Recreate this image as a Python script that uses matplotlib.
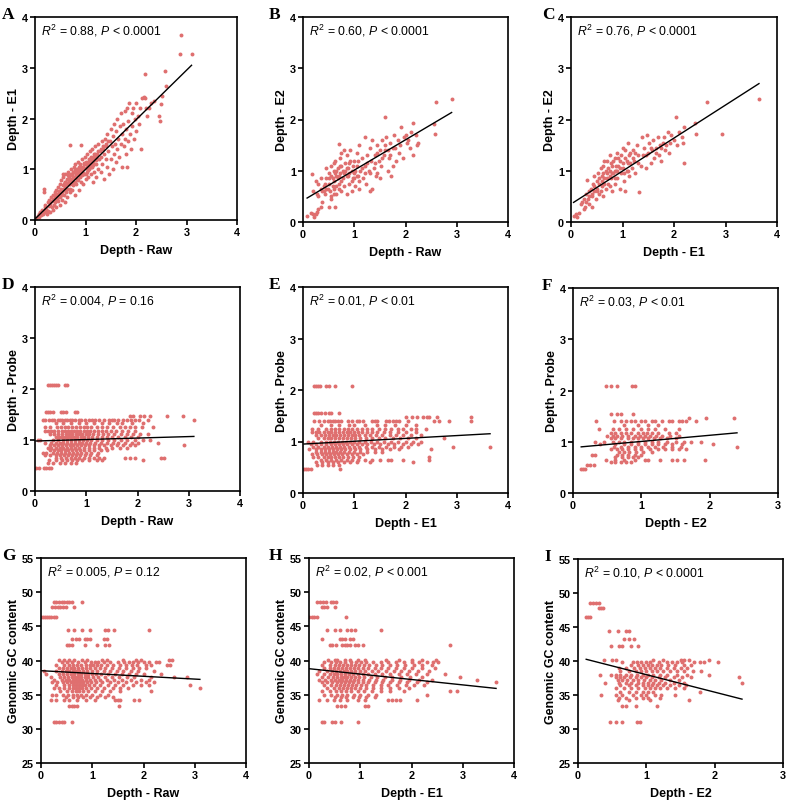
import numpy as np
import matplotlib
matplotlib.use('Agg')
import matplotlib.pyplot as plt

plt.rcParams['font.family'] = 'Liberation Sans'
plt.rcParams['mathtext.fontset'] = 'custom'
plt.rcParams['mathtext.rm'] = 'Liberation Sans'
plt.rcParams['mathtext.it'] = 'Liberation Sans:italic'

DOT = '#DF6F6F'

# ---- panel A: Depth Raw (x) vs Depth E1 (y)
a_pts = [
    (0.02, 0.03), (0.05, 0.08), (0.07, 0.12), (0.08, 0.05), (0.10, 0.15), (0.12, 0.10), (0.13, 0.20),
    (0.15, 0.12), (0.17, 0.18), (0.18, 0.62), (0.18, 0.55), (0.20, 0.25), (0.20, 0.15), (0.19, 0.30),
    (0.22, 0.22), (0.23, 0.12), (0.25, 0.35), (0.26, 0.18), (0.28, 0.40), (0.28, 0.28), (0.30, 0.15),
    (0.30, 0.32), (0.32, 0.45), (0.33, 0.25), (0.34, 0.38), (0.35, 0.50), (0.36, 0.20), (0.37, 0.42),
    (0.38, 0.30), (0.39, 0.55), (0.40, 0.35), (0.40, 0.48), (0.41, 0.60), (0.42, 0.25), (0.43, 0.42),
    (0.44, 0.52), (0.45, 0.65), (0.46, 0.38), (0.47, 0.50), (0.48, 0.58), (0.49, 0.70), (0.50, 0.30),
    (0.50, 0.45), (0.51, 0.62), (0.52, 0.78), (0.53, 0.55), (0.54, 0.40), (0.55, 0.68), (0.56, 0.85),
    (0.57, 0.50), (0.58, 0.62), (0.59, 0.75), (0.60, 0.35), (0.60, 0.90), (0.61, 0.55), (0.62, 0.70),
    (0.63, 0.80), (0.64, 0.45), (0.65, 0.95), (0.66, 0.62), (0.67, 0.75), (0.68, 0.85), (0.69, 0.55),
    (0.70, 1.48), (0.70, 0.70), (0.71, 0.90), (0.72, 1.00), (0.73, 0.60), (0.74, 0.80), (0.75, 0.95),
    (0.76, 0.68), (0.77, 1.05), (0.78, 0.85), (0.79, 0.75), (0.80, 0.50), (0.80, 1.10), (0.81, 0.90),
    (0.82, 0.70), (0.83, 1.00), (0.84, 0.80), (0.85, 1.15), (0.86, 0.95), (0.87, 0.60), (0.88, 1.05),
    (0.89, 0.85), (0.90, 1.10), (0.91, 0.75), (0.92, 1.47), (0.92, 0.95), (0.93, 1.20), (0.94, 0.88),
    (0.95, 1.00), (0.96, 0.70), (0.97, 1.12), (0.98, 0.90), (0.99, 1.25), (1.00, 1.02), (1.00, 0.80),
    (1.01, 1.15), (1.02, 0.95), (1.03, 1.30), (1.04, 1.05), (1.05, 0.85), (1.06, 1.20), (1.07, 1.00),
    (1.08, 1.35), (1.09, 1.10), (1.10, 0.90), (1.11, 1.25), (1.12, 1.05), (1.13, 1.40), (1.14, 0.75),
    (1.15, 1.15), (1.16, 1.30), (1.17, 0.95), (1.18, 1.20), (1.19, 1.45), (1.20, 1.10), (1.20, 0.85),
    (1.22, 1.30), (1.24, 1.00), (1.25, 1.50), (1.26, 1.20), (1.28, 1.35), (1.30, 0.95), (1.30, 1.25),
    (1.32, 1.55), (1.33, 1.10), (1.35, 1.40), (1.36, 0.80), (1.37, 1.30), (1.38, 1.60), (1.40, 1.20),
    (1.40, 1.45), (1.42, 1.05), (1.43, 1.70), (1.45, 1.35), (1.46, 0.90), (1.48, 1.55), (1.50, 1.20),
    (1.50, 1.80), (1.52, 1.45), (1.54, 1.00), (1.55, 1.65), (1.56, 1.30), (1.57, 1.90), (1.58, 1.50),
    (1.60, 1.15), (1.60, 1.75), (1.62, 1.40), (1.63, 2.00), (1.65, 1.60), (1.66, 1.25), (1.68, 1.85),
    (1.70, 1.50), (1.70, 2.10), (1.72, 1.70), (1.73, 1.05), (1.75, 1.90), (1.76, 1.45), (1.78, 2.15),
    (1.78, 1.60), (1.80, 1.80), (1.80, 1.30), (1.82, 2.20), (1.83, 1.05), (1.84, 1.55), (1.85, 1.95),
    (1.87, 2.30), (1.88, 1.70), (1.90, 1.40), (1.92, 2.10), (1.93, 1.85), (1.95, 2.20), (1.96, 1.60),
    (1.98, 2.00), (2.00, 2.30), (2.00, 1.75), (2.03, 2.05), (2.05, 1.90), (2.08, 2.20), (2.10, 1.40),
    (2.12, 2.40), (2.15, 2.42), (2.17, 2.40), (2.18, 2.88), (2.20, 2.20), (2.22, 2.05), (2.25, 2.20),
    (2.30, 2.30), (2.35, 2.35), (2.45, 2.05), (2.48, 1.95), (2.50, 2.28), (2.52, 2.45), (2.57, 2.93),
    (2.60, 2.65), (2.87, 3.27), (2.90, 3.65), (3.10, 3.27),
    (0.30, 0.38), (0.35, 0.40), (0.40, 0.42), (0.42, 0.50), (0.45, 0.45), (0.48, 0.52), (0.50, 0.55),
    (0.52, 0.50), (0.55, 0.60), (0.58, 0.70), (0.60, 0.65), (0.62, 0.62), (0.64, 0.72), (0.66, 0.80),
    (0.68, 0.70), (0.70, 0.80), (0.72, 0.78), (0.74, 0.88), (0.76, 0.82), (0.78, 0.95), (0.80, 0.85),
    (0.82, 0.92), (0.84, 0.98), (0.86, 0.88), (0.88, 0.95), (0.90, 1.00), (0.92, 1.05), (0.94, 1.00),
    (0.96, 1.05), (0.98, 1.10), (1.00, 1.10), (1.02, 1.08), (1.04, 1.15), (1.06, 1.10), (1.08, 1.20),
    (1.10, 1.15), (1.12, 1.20), (1.15, 1.25), (1.18, 1.30), (1.20, 1.25), (1.25, 1.35), (1.30, 1.40),
    (1.35, 1.45), (1.40, 1.50), (1.45, 1.55), (0.55, 0.90), (0.60, 0.75), (0.65, 0.88), (0.70, 0.62),
    (0.75, 0.72), (0.80, 0.98), (0.85, 0.78), (0.90, 0.88), (0.95, 0.92), (1.00, 0.90), (1.05, 0.98),
    (1.10, 1.05), (1.15, 1.08), (1.20, 1.18),
]

# ---- panel B: Depth Raw (x) vs Depth E2 (y)
b_pts = [
    (0.08, 0.12), (0.15, 0.18), (0.20, 0.15), (0.25, 0.15), (0.28, 0.20), (0.22, 0.10), (0.30, 0.25),
    (0.35, 0.30), (0.18, 0.93), (0.20, 0.60), (0.25, 0.80), (0.30, 0.75), (0.28, 0.55), (0.35, 0.65),
    (0.38, 0.40), (0.40, 0.70), (0.42, 0.55), (0.45, 0.85), (0.45, 1.05), (0.50, 0.30), (0.50, 0.95),
    (0.50, 0.75), (0.52, 0.60), (0.55, 1.10), (0.55, 0.45), (0.58, 0.85), (0.60, 0.65), (0.60, 1.00),
    (0.62, 0.30), (0.63, 1.20), (0.65, 0.90), (0.65, 0.55), (0.68, 1.05), (0.70, 1.53), (0.70, 0.75),
    (0.72, 0.95), (0.73, 1.25), (0.75, 0.60), (0.75, 1.10), (0.78, 0.85), (0.80, 1.40), (0.80, 0.70),
    (0.82, 1.00), (0.85, 1.30), (0.85, 0.55), (0.88, 0.90), (0.90, 1.15), (0.90, 0.75), (0.92, 1.40),
    (0.95, 1.00), (0.95, 0.60), (0.98, 0.85), (1.00, 1.20), (1.00, 0.95), (1.02, 0.70), (1.05, 1.10),
    (1.05, 1.35), (1.08, 0.90), (1.10, 1.50), (1.10, 0.65), (1.12, 1.00), (1.15, 1.25), (1.18, 0.85),
    (1.20, 1.10), (1.20, 1.65), (1.22, 0.75), (1.25, 1.30), (1.28, 1.00), (1.30, 1.45), (1.30, 0.60),
    (1.32, 1.20), (1.35, 0.65), (1.35, 1.60), (1.38, 1.05), (1.40, 1.30), (1.42, 0.90), (1.45, 1.50),
    (1.48, 1.20), (1.50, 1.40), (1.50, 0.85), (1.52, 1.10), (1.55, 1.60), (1.58, 1.30), (1.60, 2.05),
    (1.60, 1.50), (1.62, 1.65), (1.65, 1.00), (1.65, 1.40), (1.68, 1.25), (1.70, 1.55), (1.72, 0.90),
    (1.75, 1.10), (1.78, 1.70), (1.80, 1.45), (1.82, 1.20), (1.85, 1.60), (1.88, 1.35), (1.90, 1.50),
    (1.92, 1.85), (1.95, 1.25), (1.98, 1.65), (2.00, 1.70), (2.02, 1.55), (2.05, 1.60), (2.08, 1.45),
    (2.10, 1.75), (2.15, 1.30), (2.15, 1.93), (2.20, 1.70), (2.22, 1.50), (2.25, 1.55), (2.55, 1.92),
    (2.57, 1.72), (2.60, 2.35), (2.90, 2.40),
    (0.40, 0.60), (0.45, 0.65), (0.50, 0.85), (0.55, 0.90), (0.58, 0.70), (0.60, 0.80), (0.62, 0.95),
    (0.65, 1.00), (0.68, 0.85), (0.70, 0.90), (0.72, 1.10), (0.75, 0.80), (0.78, 1.00), (0.80, 0.95),
    (0.82, 1.15), (0.85, 0.90), (0.88, 1.05), (0.90, 0.95), (0.92, 1.20), (0.95, 0.80), (0.98, 1.10),
    (1.00, 0.85), (1.02, 1.00), (1.05, 0.90), (1.08, 1.20), (1.10, 0.80), (1.15, 1.05), (1.20, 0.95),
    (1.25, 1.15), (0.55, 0.50), (0.60, 0.55), (0.65, 0.70), (0.70, 0.65), (0.48, 0.65), (0.42, 0.75),
    (0.38, 0.60), (0.30, 0.50), (0.35, 0.85), (0.60, 1.15), (0.75, 1.35), (0.85, 1.05), (1.30, 0.95),
    (1.40, 1.15), (1.45, 1.35), (1.55, 1.25), (1.60, 1.40), (1.70, 1.30), (1.75, 1.45), (1.45, 0.95),
]

# ---- panel C: Depth E1 (x) vs Depth E2 (y)
c_pts = [
    (0.05, 0.12), (0.10, 0.15), (0.12, 0.10), (0.15, 0.18), (0.20, 0.35), (0.22, 0.40), (0.25, 0.25),
    (0.28, 0.30), (0.30, 0.55), (0.32, 0.82), (0.33, 0.45), (0.35, 0.60), (0.35, 0.35), (0.38, 0.65),
    (0.40, 0.50), (0.40, 0.30), (0.42, 0.75), (0.45, 0.60), (0.45, 0.90), (0.48, 0.45), (0.50, 0.80),
    (0.50, 0.65), (0.52, 0.95), (0.55, 0.55), (0.55, 0.75), (0.58, 1.05), (0.60, 0.70), (0.60, 0.90),
    (0.62, 0.50), (0.63, 1.10), (0.65, 0.85), (0.68, 0.65), (0.70, 1.20), (0.70, 0.95), (0.72, 0.75),
    (0.75, 1.00), (0.75, 1.30), (0.78, 0.85), (0.80, 1.10), (0.80, 0.60), (0.82, 0.95), (0.85, 1.25),
    (0.85, 0.75), (0.88, 1.00), (0.90, 1.35), (0.90, 0.85), (0.92, 1.10), (0.95, 0.65), (0.95, 1.20),
    (0.98, 0.95), (1.00, 1.45), (1.00, 1.05), (1.02, 0.80), (1.05, 1.25), (1.05, 0.60), (1.08, 1.00),
    (1.10, 1.55), (1.10, 1.15), (1.12, 0.90), (1.15, 1.35), (1.18, 1.05), (1.20, 1.40), (1.22, 1.20),
    (1.25, 0.95), (1.28, 1.50), (1.30, 1.30), (1.32, 0.58), (1.35, 1.10), (1.38, 1.65), (1.40, 1.30),
    (1.42, 1.45), (1.45, 1.05), (1.48, 1.70), (1.50, 1.35), (1.52, 1.55), (1.55, 1.15), (1.58, 1.40),
    (1.60, 1.60), (1.62, 1.25), (1.65, 1.45), (1.68, 1.65), (1.70, 1.30), (1.72, 1.50), (1.75, 1.20),
    (1.78, 1.55), (1.80, 1.65), (1.82, 1.40), (1.85, 1.50), (1.88, 1.75), (1.90, 1.35), (1.92, 1.55),
    (1.95, 1.70), (2.00, 1.60), (2.03, 2.05), (2.05, 1.50), (2.10, 1.75), (2.15, 1.65), (2.18, 1.55),
    (2.20, 1.15), (2.20, 1.85), (2.40, 1.93), (2.42, 1.72), (2.65, 2.35), (2.93, 1.72), (3.65, 2.40),
    (0.45, 0.70), (0.50, 0.60), (0.55, 0.85), (0.60, 0.80), (0.62, 0.95), (0.65, 0.75), (0.68, 1.00),
    (0.70, 0.85), (0.72, 1.05), (0.75, 0.90), (0.78, 1.15), (0.80, 0.95), (0.82, 1.20), (0.85, 1.00),
    (0.88, 1.10), (0.90, 1.00), (0.92, 1.25), (0.95, 1.05), (0.98, 1.30), (1.00, 1.15), (1.02, 0.95),
    (1.05, 1.40), (1.08, 1.20), (1.10, 1.00), (1.12, 1.30), (1.15, 1.15), (1.20, 1.25), (1.25, 1.35),
    (0.40, 0.55), (0.35, 0.50), (0.30, 0.40), (0.25, 0.45), (0.58, 0.60), (0.65, 1.20), (0.75, 0.70),
    (0.85, 0.85), (1.30, 1.15), (1.45, 1.30), (1.55, 1.45), (1.65, 1.35), (1.75, 1.45),
]

# ---- panels D-F: depth (x) vs probe depth (y); probe depth sits on discrete levels
d_rows = [
    (2.08, [0.25, 0.29, 0.33, 0.37, 0.41, 0.45, 0.58, 0.63]),
    (1.55, [0.22, 0.26, 0.30, 0.35, 0.50, 0.55, 0.60, 0.78, 0.82]),
    (1.47, [1.85, 1.92, 2.05, 2.12, 2.25, 2.58, 2.88]),
    (1.40, [0.15, 0.20, 0.28, 0.33, 0.38, 0.44, 0.48, 0.52, 0.58, 0.62, 0.68, 0.72, 0.78, 0.85, 0.90, 0.97,
            1.05, 1.12, 1.18, 1.25, 1.35, 1.45, 1.50, 1.55, 1.62, 1.72, 1.80, 1.88, 1.95, 2.02, 2.20, 3.10]),
    (1.33, [0.40, 0.55, 0.70, 0.85, 1.00, 1.15, 1.30, 1.45, 1.60, 1.70, 1.90, 2.10]),
    (1.25, [0.20, 0.30, 0.42, 0.50, 0.58, 0.65, 0.72, 0.80, 0.88, 0.95, 1.02, 1.10, 1.20, 1.30, 1.40, 1.52,
            1.65, 1.75, 1.85, 1.95, 2.08, 2.30]),
    (1.18, [0.20, 0.25, 0.32, 0.38, 0.45, 0.52, 0.58, 0.64, 0.70, 0.76, 0.82, 0.88, 0.95, 1.02, 1.08, 1.15,
            1.22, 1.30, 1.38, 1.48, 1.58, 1.70, 1.82, 1.95]),
    (1.12, [0.30, 0.38, 0.45, 0.52, 0.60, 0.66, 0.72, 0.80, 0.86, 0.92, 1.00, 1.06, 1.14, 1.22, 1.32, 1.42,
            1.55, 1.68, 1.80, 1.92, 2.05, 2.20]),
    (1.05, [0.40, 0.46, 0.52, 0.58, 0.65, 0.70, 0.76, 0.82, 0.90, 0.96, 1.04, 1.12, 1.20, 1.30, 1.40, 1.50,
            1.62, 1.75, 1.88, 2.00]),
    (1.00, [0.05, 0.10, 0.35, 0.45, 0.55, 0.62, 0.70, 0.78, 0.86, 0.94, 1.02, 1.10, 1.20, 1.30, 1.42, 1.55,
            1.68, 1.80, 1.95, 2.10, 2.25]),
    (0.95, [0.20, 0.32, 0.40, 0.48, 0.55, 0.62, 0.70, 0.78, 0.85, 0.92, 1.00, 1.08, 1.18, 1.28, 1.40, 1.52,
            1.62, 1.75, 1.90, 2.00, 2.40]),
    (0.90, [0.30, 0.38, 0.45, 0.52, 0.60, 0.68, 0.75, 0.82, 0.90, 0.98, 1.06, 1.15, 1.25, 1.35, 1.48, 1.60,
            1.72, 1.85, 1.95, 2.90]),
    (0.85, [0.25, 0.32, 0.40, 0.48, 0.55, 0.62, 0.70, 0.78, 0.86, 0.95, 1.05, 1.15, 1.25, 1.38, 1.50, 1.65, 1.80]),
    (0.80, [0.30, 0.38, 0.44, 0.50, 0.58, 0.65, 0.72, 0.80, 0.88, 0.96, 1.05, 1.15, 1.28, 1.40]),
    (0.75, [0.15, 0.22, 0.35, 0.42, 0.50, 0.58, 0.66, 0.74, 0.82, 0.90, 1.00, 1.10, 1.22]),
    (0.70, [0.20, 0.30, 0.40, 0.48, 0.56, 0.64, 0.72, 0.80, 0.88, 0.98, 1.08, 1.20]),
    (0.65, [0.40, 0.50, 0.60, 0.70, 0.78, 0.86, 0.95, 1.05, 1.15, 1.25, 1.35, 1.75, 1.85, 1.95, 2.45, 2.52]),
    (0.60, [0.28, 0.40, 0.52, 0.62, 0.72, 0.82, 0.92, 1.05, 1.20, 1.30, 2.10]),
    (0.55, [0.25, 0.35, 0.48, 0.58, 0.70, 0.80]),
    (0.46, [0.02, 0.08, 0.18, 0.22, 0.28, 0.32]),
]

e_rows = [
    (2.08, [0.22, 0.26, 0.30, 0.34, 0.45, 0.50, 0.62, 0.95]),
    (1.55, [0.22, 0.26, 0.30, 0.36, 0.42, 0.50, 0.55, 0.70]),
    (1.47, [2.00, 2.12, 2.22, 2.35, 2.42, 2.46, 2.62, 3.28]),
    (1.40, [0.22, 0.32, 0.40, 0.48, 0.52, 0.58, 0.62, 0.68, 0.75, 0.88, 0.95, 1.05, 1.10, 1.18, 1.35, 1.40,
            1.45, 1.62, 1.68, 1.75, 1.82, 1.88, 2.05, 2.55, 2.65, 2.85, 3.28]),
    (1.33, [0.35, 0.55, 0.70, 0.90, 1.00, 1.20, 1.45, 1.60, 1.80, 2.00, 2.20]),
    (1.25, [0.18, 0.30, 0.45, 0.55, 0.62, 0.70, 0.80, 0.88, 0.96, 1.05, 1.15, 1.25, 1.35, 1.48, 1.60, 1.72,
            1.85, 1.95, 2.10, 2.20, 2.40]),
    (1.18, [0.18, 0.25, 0.32, 0.40, 0.48, 0.55, 0.62, 0.70, 0.78, 0.85, 0.92, 1.00, 1.08, 1.16, 1.25, 1.35,
            1.45, 1.58, 1.70, 1.85, 2.00, 2.20]),
    (1.12, [0.25, 0.35, 0.42, 0.50, 0.58, 0.65, 0.72, 0.80, 0.88, 0.95, 1.02, 1.10, 1.20, 1.30, 1.42, 1.55,
            1.70, 1.82, 1.95, 2.10, 2.30]),
    (1.07, [0.30, 0.40, 0.48, 0.55, 0.62, 0.70, 0.78, 0.86, 0.94, 1.02, 1.12, 1.22, 1.35, 1.48, 1.60, 1.75,
            1.90, 2.05, 2.20, 2.75]),
    (1.00, [0.10, 0.20, 0.35, 0.45, 0.52, 0.60, 0.68, 0.76, 0.84, 0.92, 1.00, 1.10, 1.20, 1.32, 1.45, 1.58,
            1.72, 1.85, 2.00, 2.15, 2.30]),
    (0.95, [0.15, 0.25, 0.35, 0.45, 0.55, 0.62, 0.70, 0.78, 0.86, 0.95, 1.05, 1.15, 1.25, 1.38, 1.50, 1.65,
            1.78, 1.95, 2.10, 2.25]),
    (0.90, [0.20, 0.30, 0.40, 0.48, 0.56, 0.64, 0.72, 0.80, 0.90, 1.00, 1.10, 1.22, 1.35, 1.48, 1.62, 1.78,
            1.92, 2.05, 2.93, 3.65]),
    (0.85, [0.12, 0.25, 0.35, 0.42, 0.50, 0.58, 0.66, 0.74, 0.82, 0.92, 1.02, 1.12, 1.25, 1.40, 1.55, 1.70,
            1.88, 2.50]),
    (0.80, [0.25, 0.35, 0.42, 0.50, 0.58, 0.65, 0.72, 0.80, 0.90, 1.00, 1.12, 1.25, 1.40, 1.55]),
    (0.75, [0.18, 0.28, 0.38, 0.45, 0.52, 0.60, 0.68, 0.76, 0.85, 0.95, 1.05, 1.18]),
    (0.70, [0.20, 0.30, 0.40, 0.48, 0.55, 0.62, 0.70, 0.78, 0.88, 0.98, 1.10, 2.45]),
    (0.65, [0.35, 0.45, 0.55, 0.65, 0.75, 0.85, 0.95, 1.08, 1.20, 1.35, 1.50, 1.65, 1.72, 1.95, 2.45]),
    (0.60, [0.25, 0.38, 0.48, 0.58, 0.68, 0.80, 0.92, 1.05, 1.30, 2.15]),
    (0.55, [0.28, 0.38, 0.48, 0.58, 0.70]),
    (0.46, [0.02, 0.06, 0.10, 0.15, 0.72]),
]

f_rows = [
    (2.08, [0.48, 0.55, 0.65, 0.87, 0.90]),
    (1.55, [0.55, 0.65, 0.70, 0.88]),
    (1.47, [1.70, 1.95, 2.35]),
    (1.40, [0.33, 0.60, 0.70, 0.78, 0.85, 0.90, 1.00, 1.05, 1.15, 1.20, 1.30, 1.40, 1.45, 1.55, 1.60, 1.65, 1.80]),
    (1.33, [0.75, 0.95, 1.10, 1.25]),
    (1.25, [0.38, 0.58, 0.68, 0.78, 0.88, 1.00, 1.10, 1.20, 1.35, 1.55]),
    (1.18, [0.55, 0.62, 0.70, 0.78, 0.85, 0.95, 1.02, 1.08, 1.15, 1.25, 1.40, 1.50]),
    (1.12, [0.50, 0.58, 0.65, 0.72, 0.80, 0.90, 0.98, 1.05, 1.12, 1.22, 1.30, 1.42, 1.55]),
    (1.07, [0.55, 0.62, 0.70, 0.80, 0.88, 0.95, 1.02, 1.10, 1.18, 1.28, 1.38, 1.50]),
    (1.00, [0.32, 0.45, 0.58, 0.68, 0.75, 0.85, 0.95, 1.05, 1.15, 1.25, 1.38, 1.50, 1.62, 1.72, 1.88]),
    (0.95, [0.40, 0.62, 0.75, 0.85, 0.95, 1.05, 1.15, 1.25, 1.35, 1.45, 1.60, 2.05]),
    (0.90, [0.60, 0.70, 0.80, 0.90, 1.00, 1.10, 1.20, 1.32, 1.45, 1.58, 2.40]),
    (0.85, [0.55, 0.65, 0.72, 0.80, 0.90, 1.00, 1.12, 1.25, 1.35, 1.45, 1.55, 1.65]),
    (0.80, [0.68, 0.75, 0.82, 0.92, 1.02, 1.15]),
    (0.75, [0.28, 0.32, 0.65, 0.72, 0.80, 0.90, 1.00]),
    (0.70, [0.62, 0.72, 0.80, 0.88, 0.95]),
    (0.65, [0.48, 0.62, 0.75, 0.90, 1.05, 1.10, 1.28, 1.45, 1.52, 1.62, 1.93]),
    (0.60, [0.55, 0.62, 0.70, 0.78, 0.85]),
    (0.55, [0.20, 0.25, 0.30]),
    (0.46, [0.12, 0.15, 0.17]),
]

# ---- panels G-I: depth (x) vs genomic GC content (y)
g_rows = [
    (48.6, [0.25, 0.30, 0.35, 0.40, 0.45, 0.50, 0.55, 0.60, 0.80]),
    (47.8, [0.22, 0.28, 0.33, 0.38, 0.43, 0.48, 0.65]),
    (46.4, [0.00, 0.04, 0.08, 0.12, 0.16, 0.20, 0.25, 0.30]),
    (44.4, [0.52, 0.65, 0.80, 0.95, 1.25, 1.30, 1.42, 2.10]),
    (43.2, [0.60, 0.68, 0.75, 0.85, 0.90, 0.95, 1.22, 1.28]),
    (42.2, [0.50, 0.55, 0.60, 0.85, 1.10, 1.25, 1.32]),
    (40.1, [0.35, 0.45, 0.55, 0.65, 0.80, 0.90, 1.20, 1.28, 1.60, 1.85, 1.95, 2.50, 2.55]),
    (39.8, [0.40, 0.50, 0.60, 0.72, 0.85, 0.98, 1.05, 1.12, 1.22, 1.35, 1.50, 1.62, 1.72, 1.80, 1.90, 2.00,
            2.10, 2.25, 2.30]),
    (39.4, [0.30, 0.45, 0.55, 0.62, 0.70, 0.78, 0.88, 0.95, 1.02, 1.10, 1.18, 1.28, 1.40, 1.55, 1.65, 1.78,
            1.88, 2.05, 2.15, 2.45, 2.52]),
    (38.9, [0.35, 0.42, 0.50, 0.58, 0.65, 0.72, 0.80, 0.88, 0.96, 1.05, 1.15, 1.25, 1.38, 1.52, 1.65, 1.80,
            1.92, 2.05]),
    (38.5, [0.05, 0.30, 0.40, 0.48, 0.55, 0.62, 0.68, 0.75, 0.82, 0.90, 1.00, 1.10, 1.22, 1.35, 1.48, 1.60,
            1.75, 1.90, 2.20]),
    (38.0, [0.10, 0.35, 0.42, 0.50, 0.58, 0.65, 0.72, 0.78, 0.85, 0.92, 1.00, 1.08, 1.18, 1.30, 1.45, 1.58,
            1.72, 1.85, 2.00, 2.35]),
    (37.6, [0.20, 0.38, 0.45, 0.52, 0.60, 0.66, 0.72, 0.78, 0.85, 0.92, 1.02, 1.12, 1.25, 1.38, 1.52, 1.68,
            1.82, 2.15, 2.60, 2.85]),
    (37.2, [0.25, 0.40, 0.48, 0.55, 0.62, 0.68, 0.74, 0.80, 0.88, 0.96, 1.05, 1.15, 1.28, 1.42, 1.58, 1.75,
            1.95, 2.10]),
    (36.8, [0.22, 0.32, 0.42, 0.50, 0.58, 0.64, 0.70, 0.76, 0.82, 0.90, 0.98, 1.08, 1.20, 1.35, 1.50, 1.65,
            1.85, 2.05, 2.20]),
    (36.4, [0.30, 0.45, 0.55, 0.62, 0.68, 0.74, 0.80, 0.86, 0.94, 1.04, 1.15, 1.30, 1.45, 1.60, 1.80, 1.95,
            2.10, 2.90]),
    (36.0, [0.25, 0.35, 0.45, 0.55, 0.62, 0.68, 0.74, 0.80, 0.88, 0.98, 1.10, 1.22, 1.40, 1.55, 1.70, 3.10]),
    (35.5, [0.38, 0.50, 0.60, 0.68, 0.75, 0.82, 0.92, 1.05, 1.20, 1.35, 1.55, 2.15]),
    (35.0, [0.22, 0.30, 0.42, 0.52, 0.62, 0.70, 0.78, 0.88, 1.00, 1.15, 1.30]),
    (34.6, [0.48, 0.62, 0.72, 0.82, 0.95, 1.10, 1.25, 1.40]),
    (34.2, [0.20, 0.30, 0.45, 0.55, 0.70, 0.88, 1.05, 1.45, 1.50, 1.55, 1.82, 1.92]),
    (33.4, [0.55, 0.60, 0.65, 0.70, 1.52]),
    (31.0, [0.25, 0.30, 0.35, 0.40, 0.45, 0.60]),
]

h_rows = [
    (48.6, [0.15, 0.22, 0.28, 0.33, 0.42, 0.47, 0.52]),
    (47.8, [0.25, 0.30, 0.35, 0.50]),
    (46.4, [0.00, 0.05, 0.10, 0.15, 0.72]),
    (44.4, [0.35, 0.50, 0.60, 0.75, 0.82, 0.90, 1.40]),
    (43.2, [0.25, 0.60, 0.65, 0.70, 0.80, 0.85]),
    (42.2, [0.40, 0.45, 0.52, 0.65, 0.70, 0.75, 0.80, 0.90, 0.95, 1.05, 2.75]),
    (40.1, [0.38, 0.50, 0.55, 0.70, 0.80, 0.95, 1.10, 1.50, 1.75, 2.00, 2.20, 2.48]),
    (39.8, [0.30, 0.42, 0.52, 0.60, 0.70, 0.82, 0.92, 1.02, 1.12, 1.25, 1.40, 1.55, 1.70, 1.85, 2.00, 2.15,
            2.30, 2.42, 2.52]),
    (39.4, [0.25, 0.40, 0.50, 0.58, 0.66, 0.74, 0.82, 0.90, 0.98, 1.08, 1.18, 1.30, 1.42, 1.58, 1.72, 1.88,
            2.05, 2.20, 2.40]),
    (38.9, [0.30, 0.40, 0.48, 0.56, 0.64, 0.72, 0.80, 0.88, 0.96, 1.05, 1.15, 1.28, 1.40, 1.55, 1.70, 1.85,
            2.00, 2.20, 2.45]),
    (38.5, [0.20, 0.35, 0.45, 0.52, 0.60, 0.68, 0.75, 0.82, 0.90, 1.00, 1.10, 1.22, 1.35, 1.50, 1.65, 1.80,
            1.95, 2.12, 2.35]),
    (38.0, [0.15, 0.30, 0.40, 0.48, 0.55, 0.62, 0.70, 0.78, 0.86, 0.95, 1.05, 1.15, 1.28, 1.42, 1.58, 1.75,
            1.92, 2.08, 2.30, 2.65]),
    (37.6, [0.25, 0.38, 0.46, 0.54, 0.62, 0.68, 0.75, 0.82, 0.90, 0.98, 1.08, 1.20, 1.32, 1.48, 1.62, 1.80,
            1.98, 2.20, 2.95]),
    (37.2, [0.20, 0.32, 0.42, 0.50, 0.58, 0.65, 0.72, 0.80, 0.88, 0.96, 1.06, 1.18, 1.30, 1.45, 1.62, 1.78,
            1.95, 2.15, 2.40, 3.28]),
    (36.8, [0.25, 0.35, 0.45, 0.55, 0.62, 0.70, 0.78, 0.86, 0.95, 1.05, 1.15, 1.28, 1.42, 1.58, 1.75, 1.92,
            2.10, 2.30, 3.65]),
    (36.4, [0.30, 0.42, 0.52, 0.60, 0.68, 0.76, 0.84, 0.92, 1.02, 1.12, 1.25, 1.40, 1.55, 1.72, 1.90, 2.05,
            2.25]),
    (36.0, [0.35, 0.48, 0.58, 0.66, 0.74, 0.82, 0.90, 1.00, 1.12, 1.25, 1.40, 1.58, 1.75, 1.95]),
    (35.5, [0.25, 0.40, 0.52, 0.62, 0.72, 0.82, 0.95, 1.08, 1.22, 1.40, 1.58, 1.85, 2.75, 2.88]),
    (35.0, [0.30, 0.42, 0.55, 0.65, 0.75, 0.88, 1.00, 1.15, 1.30, 2.30]),
    (34.6, [0.50, 0.62, 0.72, 0.85, 0.98, 1.12, 1.28]),
    (34.2, [0.20, 0.35, 0.48, 0.60, 0.75, 0.95, 1.10, 1.55, 1.62, 1.70, 1.78, 2.10]),
    (33.4, [0.55, 0.62, 0.70, 1.10, 1.15]),
    (31.0, [0.25, 0.30, 0.45, 0.50, 0.62, 0.95]),
]

i_rows = [
    (48.6, [0.18, 0.22, 0.26, 0.30]),
    (47.8, [0.30, 0.33, 0.36]),
    (46.4, [0.12, 0.15, 0.18]),
    (44.4, [0.46, 0.58, 0.70, 0.75]),
    (43.2, [0.68, 0.75, 0.82]),
    (42.2, [0.48, 0.60, 0.64, 0.78, 0.88]),
    (40.1, [0.38, 0.50, 0.55, 1.10, 1.25, 1.50, 1.55, 1.62, 1.92]),
    (39.8, [0.65, 0.80, 0.86, 0.92, 1.00, 1.05, 1.18, 1.30, 1.38, 1.45, 1.52, 1.70, 1.78, 1.85, 2.05]),
    (39.4, [0.78, 0.88, 0.95, 1.02, 1.08, 1.15, 1.22, 1.32, 1.42, 1.55, 1.65]),
    (38.9, [0.60, 0.70, 0.82, 0.90, 0.98, 1.05, 1.12, 1.20, 1.30, 1.40, 1.50, 1.60]),
    (38.5, [0.62, 0.75, 0.85, 0.92, 1.00, 1.08, 1.15, 1.25, 1.35, 1.45, 1.55, 1.68, 1.80]),
    (38.0, [0.32, 0.48, 0.55, 0.62, 0.70, 0.78, 0.86, 0.95, 1.02, 1.10, 1.20, 1.30, 1.45, 1.60, 1.92]),
    (37.6, [0.55, 0.62, 0.68, 0.76, 0.85, 0.92, 1.00, 1.08, 1.18, 1.28, 1.40, 1.52, 1.65, 2.35]),
    (37.2, [0.58, 0.65, 0.72, 0.80, 0.88, 0.96, 1.05, 1.12, 1.22, 1.35, 1.48]),
    (36.8, [0.40, 0.60, 0.70, 0.78, 0.88, 0.95, 1.02, 1.10, 1.18, 1.28, 1.40, 1.55, 2.40]),
    (36.4, [0.62, 0.75, 0.85, 0.95, 1.02, 1.08, 1.15, 1.25, 1.35, 1.48, 1.58]),
    (36.0, [0.55, 0.68, 0.78, 0.88, 0.98, 1.05, 1.12, 1.20, 1.30, 1.42, 1.55]),
    (35.5, [0.62, 0.75, 0.85, 0.95, 1.02, 1.10, 1.78]),
    (35.0, [0.34, 0.55, 0.65, 0.80, 0.92, 1.00, 1.12, 1.22, 1.42]),
    (34.6, [0.60, 0.70, 0.85, 0.95, 1.02, 1.20]),
    (34.2, [0.58, 0.75, 1.05, 1.62]),
    (33.4, [0.65, 0.70, 0.85, 1.15]),
    (31.0, [0.47, 0.55, 0.65, 0.87, 0.90]),
]

# fitted lines (slope, intercept)
fits = {
    'A': (0.977, 0.02), 'B': (0.592, 0.42), 'C': (0.644, 0.35),
    'D': (0.029, 0.98), 'E': (0.055, 0.95), 'F': (0.12, 0.886),
    'G': (-0.41, 38.51), 'H': (-0.79, 38.80), 'I': (-2.57, 40.56),
}
notes = {
    'A': r'$R^2$ = 0.88, $P$ < 0.0001', 'B': r'$R^2$ = 0.60, $P$ < 0.0001', 'C': r'$R^2$ = 0.76, $P$ < 0.0001',
    'D': r'$R^2$ = 0.004, $P$ = 0.16', 'E': r'$R^2$ = 0.01, $P$ < 0.01', 'F': r'$R^2$ = 0.03, $P$ < 0.01',
    'G': r'$R^2$ = 0.005, $P$ = 0.12', 'H': r'$R^2$ = 0.02, $P$ < 0.001', 'I': r'$R^2$ = 0.10, $P$ < 0.0001',
}


def from_pairs(pts):
    return np.array([p[0] for p in pts]), np.array([p[1] for p in pts])


def from_rows(rows):
    xs, ys = [], []
    for level, vals in rows:
        xs += vals
        ys += [level] * len(vals)
    return np.array(xs), np.array(ys)


W, H = 787, 803
fig = plt.figure(figsize=(W / 100, H / 100), dpi=100)

# (label, data, xmax, ylim, xlabel, ylabel, axes box in px: left, right, top, bottom, letter x)
panels = [
    ('A', from_pairs(a_pts), 4, (0, 4), 'Depth - Raw', 'Depth - E1', (35, 237, 18, 221), 2),
    ('B', from_pairs(b_pts), 4, (0, 4), 'Depth - Raw', 'Depth - E2', (303, 508, 18, 223), 269),
    ('C', from_pairs(c_pts), 4, (0, 4), 'Depth - E1', 'Depth - E2', (571, 777, 18, 223), 542),
    ('D', from_rows(d_rows), 4, (0, 4), 'Depth - Raw', 'Depth - Probe', (35, 240, 288, 492), 2),
    ('E', from_rows(e_rows), 4, (0, 4), 'Depth - E1', 'Depth - Probe', (303, 508, 288, 494), 269),
    ('F', from_rows(f_rows), 3, (0, 4), 'Depth - E2', 'Depth - Probe', (573, 778, 289, 494), 542),
    ('G', from_rows(g_rows), 4, (25, 55), 'Depth - Raw', 'Genomic GC content', (41, 246, 559, 764), 2),
    ('H', from_rows(h_rows), 4, (25, 55), 'Depth - E1', 'Genomic GC content', (309, 514, 559, 764), 269),
    ('I', from_rows(i_rows), 3, (25, 55), 'Depth - E2', 'Genomic GC content', (578, 783, 560, 764), 544),
]

for label, (x, y), xmax, ylim, xlab, ylab, (l, r, t, b), lx in panels:
    ax = fig.add_axes([l / W, 1 - b / H, (r - l) / W, (b - t) / H])
    ax.scatter(x, y, s=8, color=DOT, linewidths=0, zorder=2)
    k, c = fits[label]
    xl = np.array([x.min(), x.max()])
    ax.plot(xl, k * xl + c, color='black', lw=1.0, zorder=3)
    ax.set_xlim(0, xmax)
    ax.set_ylim(*ylim)
    ax.set_xticks(range(0, xmax + 1))
    if ylim[1] == 4:
        ax.set_yticks(range(0, 5))
    else:
        ax.set_yticks(range(25, 56, 5))
    for s in ax.spines.values():
        s.set_linewidth(1.2)
    ax.tick_params(direction='out', length=3.5, width=1.2, labelsize=7.8, pad=1.5)
    for tl in ax.get_xticklabels() + ax.get_yticklabels():
        tl.set_fontweight('bold')
    ax.set_xlabel(xlab, fontsize=9, fontweight='bold', labelpad=5)
    ax.set_ylabel(ylab, fontsize=9, fontweight='bold', labelpad=1.5)
    ax.text(0.03, 0.935, notes[label], transform=ax.transAxes, fontsize=8.8, va='center', ha='left')
    fig.text(lx / W, 1 - (t + 1) / H, label, fontsize=12.5, fontweight='bold',
             family='Liberation Serif', va='baseline', ha='left')

fig.savefig('out.png', dpi=100)
